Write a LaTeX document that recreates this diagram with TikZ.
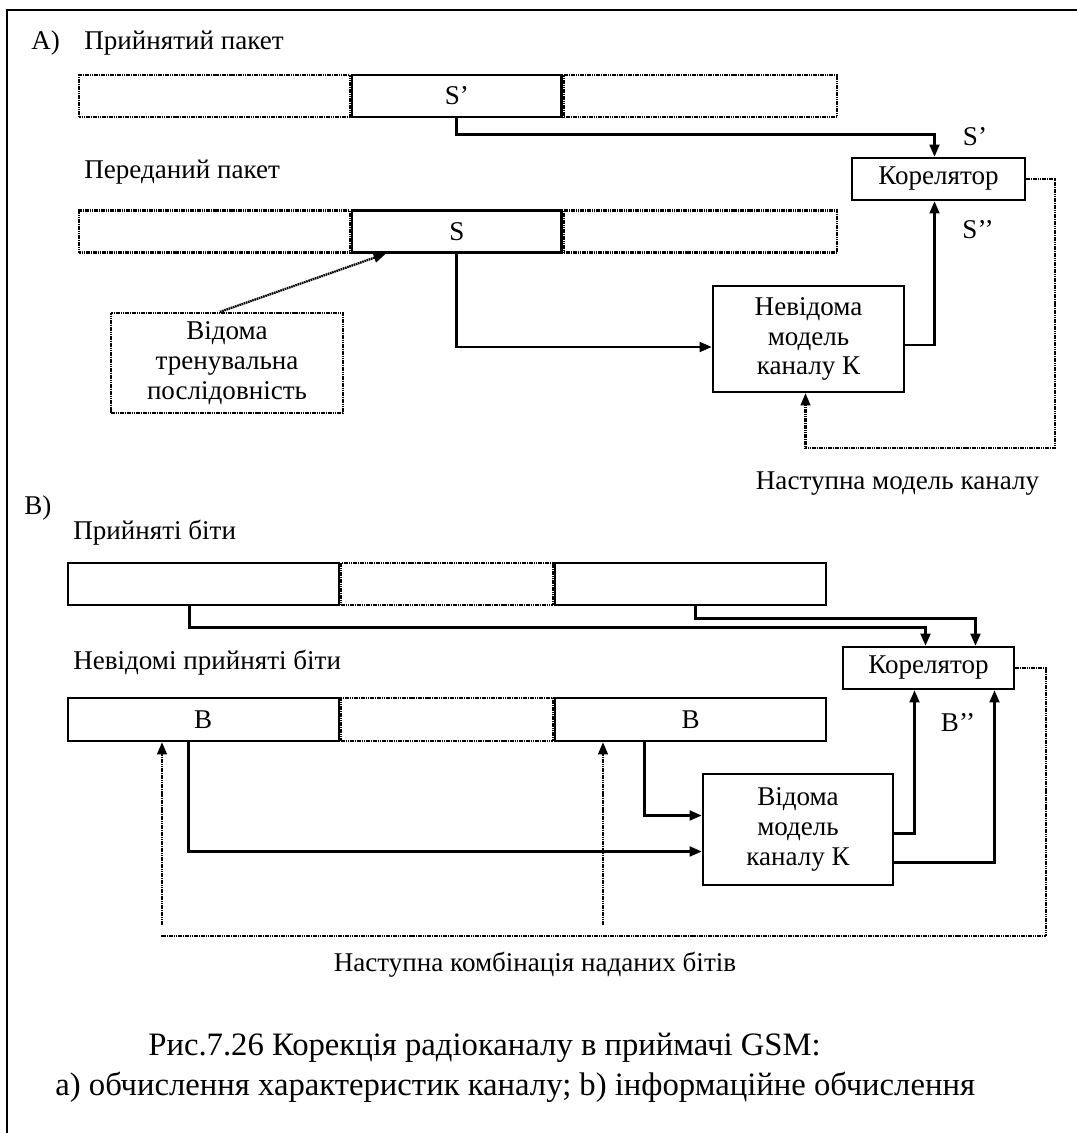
\documentclass[tikz,border=0pt]{standalone}
\usepackage{fontspec}
\setmainfont{Liberation Serif}
\usepackage{tikz}
\usetikzlibrary{calc,positioning,arrows.meta}
\tikzset{
	packet/.style={draw, line width=1.3pt, minimum height=8.4mm, inner sep=0pt},
	dpacket/.style={packet, line width=1.3pt, dash pattern=on 0.9pt off 0.4pt},
	lbl/.style={inner sep=0pt, anchor=west},
	wire/.style={line width=1.6pt},
	conn/.style={wire, -{Triangle[length=7pt,width=5.5pt]}},
	dwire/.style={line width=1.3pt, dash pattern=on 0.9pt off 0.4pt},
	dconn/.style={dwire, -{Triangle[length=7pt,width=5.5pt]}},
}

\begin{document}
\begin{tikzpicture}[x=0.2mm, y=-0.2mm, font=\fontsize{15.4}{17}\selectfont]
			%%%%% START %%%%%
			\useasboundingbox (0,0) rectangle (1077,1133);
			\draw[line width=1.7pt] (1077,10) -- (7,10) -- (7,1133);
			
			% A) channel estimate
			\node[lbl] (labA) at (31,43) {А)};
			\node[lbl] (rxA) at (84,43) {Прийнятий пакет};
			\node[packet, minimum width=41.9mm] (a1M) at (456.8,96) {S’};
			\node[dpacket, minimum width=54.1mm, left=0pt of a1M] (a1L) {};
			\node[dpacket, minimum width=54.7mm, right=0pt of a1M] (a1R) {};
			
			\node[lbl] (txA) at (84,172) {Переданий пакет};
			\node[packet, minimum width=41.9mm] (a2M) at (456.8,231.5) {S};
			\node[dpacket, minimum width=54.1mm, left=0pt of a2M] (a2L) {};
			\node[dpacket, minimum width=54.7mm, right=0pt of a2M] (a2R) {};
			
			\node[packet, minimum width=34.6mm] (corA) at (938.5,179) {Корелятор};
			\node (sA) at (975,137) {S’};
			\node (ssA) at (978,230) {S’’};
			
			\node[dpacket, minimum width=46.4mm, minimum height=20mm, align=center] (trA) at (227,363) {Відома\\тренувальна\\послідовність};
			\node[packet, minimum width=38.2mm, minimum height=21.2mm, align=center] (modA) at (808.5,339) {Невідома\\модель\\каналу К};
			
			\draw[conn] (a1M.south) -- ++(0,16) -| ($(corA.north)+(-4,0)$);
			\draw[conn] (a2M.south) |- ($(modA.west)+(0,8)$);
			\draw[conn] ($(modA.east)+(0,6)$) -| ($(corA.south)+(-4,0)$);
			\draw[dconn] ($(trA.north)+(-7,0)$) -- ($(a2M.south west)+(35,0)$);
			
			\coordinate (fbA) at (1055,448);
			\draw[dconn] (corA.east) -| (fbA) -| ($(modA.south)+(-3,0)$);
			\node (nxA) at (897.5,484) {Наступна модель каналу};
			
			% B) data bits
			\node[lbl] (labB) at (24,508) {В)};
			\node[lbl] (rxB) at (73,533) {Прийняті біти};
			\node[dpacket, minimum width=42.4mm] (b1M) at (447,584) {};
			\node[packet, minimum width=54.2mm, left=0pt of b1M] (b1L) {};
			\node[packet, minimum width=54.1mm, right=0pt of b1M] (b1R) {};
			
			\node[lbl] (txB) at (73,663) {Невідомі прийняті біти};
			\node[dpacket, minimum width=42.4mm, minimum height=8.6mm] (b2M) at (447,719.5) {};
			\node[packet, minimum width=54.2mm, minimum height=8.6mm, left=0pt of b2M] (b2L) {В};
			\node[packet, minimum width=54.1mm, minimum height=8.6mm, right=0pt of b2M] (b2R) {В};
			
			\node[packet, minimum width=34.2mm] (corB) at (928.5,668) {Корелятор};
			\node[packet, minimum width=38mm, minimum height=22.2mm, align=center] (modB) at (798,829.5) {Відома\\модель\\каналу К};
			\node (ssB) at (958,723) {В’’};
			
			\draw[conn] ($(b1L.south)+(-14,0)$) -- ++(0,21) -| ($(corB.north)+(-3,0)$);
			\draw[conn] ($(b1R.south)+(5,0)$) -- ++(0,12) -| ($(corB.north)+(47,0)$);
			\draw[conn] ($(b2L.south)+(-15,0)$) |- ($(modB.west)+(0,22)$);
			\draw[conn] ($(b2R.south)+(-46,0)$) |- ($(modB.west)+(0,-14)$);
			\draw[conn] ($(modB.east)+(0,4)$) -| ($(corB.south)+(-14,0)$);
			\draw[conn] ($(modB.east)+(0,33)$) -| ($(corB.south)+(66,0)$);
			
			\coordinate (fbB) at (1046,936);
			\coordinate (fbBl) at (161,936);
			\coordinate (upL) at (162,925);
			\coordinate (upR) at (603,925);
			\draw[dwire] (corB.east) -| (fbB) -- (fbBl);
			\draw[dconn] (upL) -- (upL |- b2L.south);
			\draw[dconn] (upR) -- (upR |- b2R.south);
			\node (nxB) at (535,965) {Наступна комбінація наданих бітів};
			
			% caption
			\node[lbl, font=\fontsize{18.6}{22}\selectfont] (capA) at (148,1048) {Рис.7.26 Корекція радіоканалу в приймачі GSM:};
			\node[lbl, font=\fontsize{18.6}{22}\selectfont] (capB) at (55,1087) {а) обчислення характеристик каналу; b) інформаційне обчислення};
			%%%%% END %%%%%
\end{tikzpicture}
\end{document}
